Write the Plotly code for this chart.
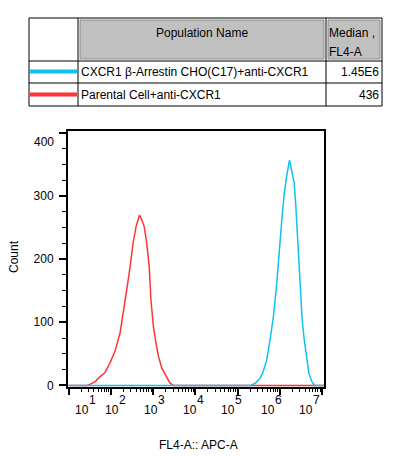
import plotly.graph_objects as go

# ---------------- data ----------------
series_names = ["CXCR1 β-Arrestin CHO(C17)+anti-CXCR1", "Parental Cell+anti-CXCR1"]
series_medians = ["1.45E6", "436"]
series_colors = ["#10c0f0", "#ff3535"]

red_fl4 = [10, 28, 33, 43, 56, 72, 95, 126, 166, 200, 240, 288, 339, 398, 479, 537, 617,
           708, 813, 891, 1023, 1175, 1349, 1622, 2042, 2512, 3020, 11140000]
red_count = [0, 0, 2, 6, 14, 20, 35, 54, 83, 115, 152, 189, 226, 252, 270, 263, 252,
             226, 189, 136, 93, 67, 46, 27, 14, 4, 0, 0]

blue_fl4 = [10, 200000, 257000, 339000, 407000, 490000, 589000, 708000, 851000, 977000,
            1120000, 1260000, 1450000, 1700000, 1910000, 2190000, 2400000, 2750000,
            3020000, 3390000, 3800000, 4370000, 4900000, 5750000, 6760000, 11140000]
blue_count = [0, 0, 3, 11, 22, 40, 72, 109, 162, 220, 263, 300, 331, 357, 342, 321,
              284, 215, 162, 104, 72, 40, 19, 6, 0, 0]

x_tick_exps = [1, 2, 3, 4, 5, 6, 7]
y_tick_vals = [0, 100, 200, 300, 400]
x_title = "FL4-A:: APC-A"
y_title = "Count"

# ---------------- layout helpers ----------------
W, H = 394, 456
L, R, T, B = 68, 70, 131, 69
PW, PH = W - L - R, H - T - B
FONT = "Liberation Sans, Arial, sans-serif"
FS = 12


def fx(px):
    return (px - L) / PW


def fy(py):
    return (H - B - py) / PH


def text(xp, yp, s, xa="center", angle=0, size=FS):
    return dict(xref="paper", yref="paper", x=fx(xp), y=fy(yp), text=s,
                showarrow=False, xanchor=xa, yanchor="middle", textangle=angle,
                font=dict(size=size, color="black", family=FONT))


fig = go.Figure()
fig.add_trace(go.Scatter(x=red_fl4, y=red_count, mode="lines",
                         line=dict(color=series_colors[1], width=1.5),
                         showlegend=False, hoverinfo="skip"))
fig.add_trace(go.Scatter(x=blue_fl4, y=blue_count, mode="lines",
                         line=dict(color=series_colors[0], width=1.5),
                         showlegend=False, hoverinfo="skip"))

shapes = []
annotations = []

# ---- table ----
tx0, tx1, tx2, tx3 = 29, 78, 326, 382
ty0, ty1, ty2, ty3 = 18, 61, 83, 106
for a, b in [(tx1, tx2), (tx2, tx3)]:
    shapes.append(dict(type="rect", xref="paper", yref="paper",
                       x0=fx(a + 2), x1=fx(b - 2), y0=fy(ty0 + 2), y1=fy(ty1 - 2),
                       fillcolor="#c0c0c0", line=dict(color="#8a8a8a", width=1)))
for xv in [tx0, tx1, tx2, tx3]:
    shapes.append(dict(type="line", xref="paper", yref="paper",
                       x0=fx(xv), x1=fx(xv), y0=fy(ty0), y1=fy(ty3),
                       line=dict(color="black", width=1)))
for yv in [ty0, ty1, ty2, ty3]:
    shapes.append(dict(type="line", xref="paper", yref="paper",
                       x0=fx(tx0), x1=fx(tx3), y0=fy(yv), y1=fy(yv),
                       line=dict(color="black", width=1)))
annotations.append(text((tx1 + tx2) / 2, 33, "Population Name"))
annotations.append(text(tx2 + 1, 33, "Median ,", xa="left"))
annotations.append(text(tx2 + 1, 52, "FL4-A", xa="left"))
row_y = [71.5, 94.5]
for i, name in enumerate(series_names):
    shapes.append(dict(type="line", xref="paper", yref="paper",
                       x0=fx(tx0 + 1), x1=fx(tx1 - 1), y0=fy(row_y[i]), y1=fy(row_y[i]),
                       line=dict(color=series_colors[i], width=4)))
    annotations.append(text(tx1 + 1, row_y[i], name, xa="left"))
    annotations.append(text(tx3 - 1, row_y[i], series_medians[i], xa="right"))

# ---- x tick labels (FlowJo style, stacked exponent) ----
ten_left = [72.7, 103, 142, 181, 219, 259, 297]
for i, e in enumerate(x_tick_exps):
    annotations.append(text(ten_left[i], 410, "10", xa="left"))
    annotations.append(text(ten_left[i] + 14, 400, str(e), xa="left"))

annotations.append(text(56, 142, "400", xa="right"))
annotations.append(text(198, 445, x_title))
annotations.append(text(14, 257, y_title, angle=-90))

fig.update_layout(
    width=W, height=H,
    margin=dict(l=L, r=R, t=T, b=B, pad=0),
    paper_bgcolor="white", plot_bgcolor="white",
    shapes=shapes, annotations=annotations,
    showlegend=False,
    font=dict(family=FONT, size=FS, color="black"),
)
fig.update_xaxes(type="log", range=[0.988, 7.047],
                 showgrid=False, zeroline=False,
                 showline=True, linecolor="black", linewidth=2, mirror=True,
                 ticks="outside", ticklen=6, tickwidth=1.5, tickcolor="black",
                 tickvals=[10 ** e for e in x_tick_exps], showticklabels=False,
                 minor=dict(ticks="outside", ticklen=3, tickwidth=1, tickcolor="black",
                            dtick="D1", showgrid=False))
fig.update_yaxes(range=[-2.5, 403],
                 showgrid=False, zeroline=False,
                 showline=True, linecolor="black", linewidth=2, mirror=True,
                 ticks="outside", ticklen=7, tickwidth=1.5, tickcolor="black",
                 tickvals=y_tick_vals, ticktext=["0", "100", "200", "300", ""],
                 tickfont=dict(size=FS, color="black", family=FONT),
                 ticklabelstandoff=3,
                 minor=dict(ticks="outside", ticklen=4, tickwidth=1, tickcolor="black",
                            dtick=25, showgrid=False))

fig.write_html("out.html", config={"displayModeBar": False},
               post_script="document.body.style.margin='0px';")
